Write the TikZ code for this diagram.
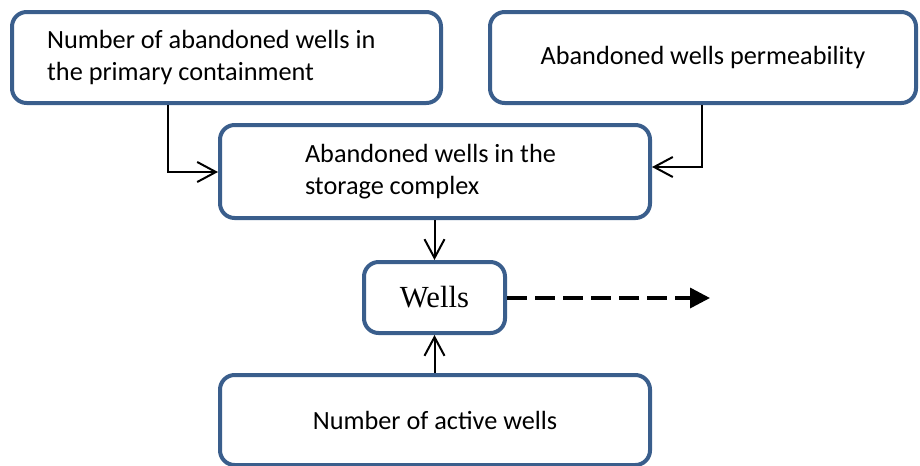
\documentclass[tikz,border=0pt]{standalone}
\usepackage{fontspec}
\setmainfont{Carlito}
\newfontfamily\wellsfont{Liberation Serif}
\usetikzlibrary{arrows.meta,positioning,shapes}
\definecolor{boxblue}{RGB}{58,94,140}

\begin{document}
\begin{tikzpicture}[x=0.75pt,y=-0.75pt]
		% pixel grid of the reference, y runs downwards
		\tikzstyle{block} = [rectangle, draw=boxblue, line width=3pt, rounded corners=11pt, fill=white, font=\fontsize{19.7}{23.5}\selectfont, inner sep=0pt]
		\tikzstyle{arrow} = [draw, line width=1.5pt, -{Straight Barb[length=14pt,width=15pt,line width=1.5pt]}]
		\tikzstyle{dasharrow} = [draw, line width=2.6pt, dash pattern=on 15pt off 6pt, -{Triangle[length=15pt,width=15pt]}]
		\useasboundingbox (0,0) rectangle (920,465);
		\node [block, minimum width=321.75pt, minimum height=68.25pt, text width=269pt, align=left] (abandoned) at (226.5,57.5) {\spaceskip=0pt\xspaceskip=0pt Number of abandoned wells in\\the primary containment};
		\node [block, minimum width=319.5pt, minimum height=68.25pt] (permeability) at (703,57.5) {Abandoned wells permeability};
		\node [block, minimum width=322.5pt, minimum height=69.75pt, text width=195pt, align=left] (complex) at (435,171.5) {\spaceskip=0pt\xspaceskip=0pt Abandoned wells in the\\storage complex};
		\node [block, minimum width=105.75pt, minimum height=53.25pt, font=\wellsfont\fontsize{23}{27}\selectfont] (wells) at (434.5,297.5) {Wells};
		\node [block, minimum width=322.5pt, minimum height=67.5pt] (active) at (435,420) {Number of active wells};
		\coordinate (out) at (710,298);

		\path[arrow] (abandoned.south -| 168,0) |- (complex.west |- 0,172);
		\path[arrow] (permeability.south -| 702,0) |- (complex.east |- 0,167);
		\path[arrow] (complex.south -| wells) -- (wells.north);
		\path[arrow] (active.north -| wells) -- (wells.south);
		\path[dasharrow] (wells.east |- out) -- (out);
	\end{tikzpicture}
\end{document}
